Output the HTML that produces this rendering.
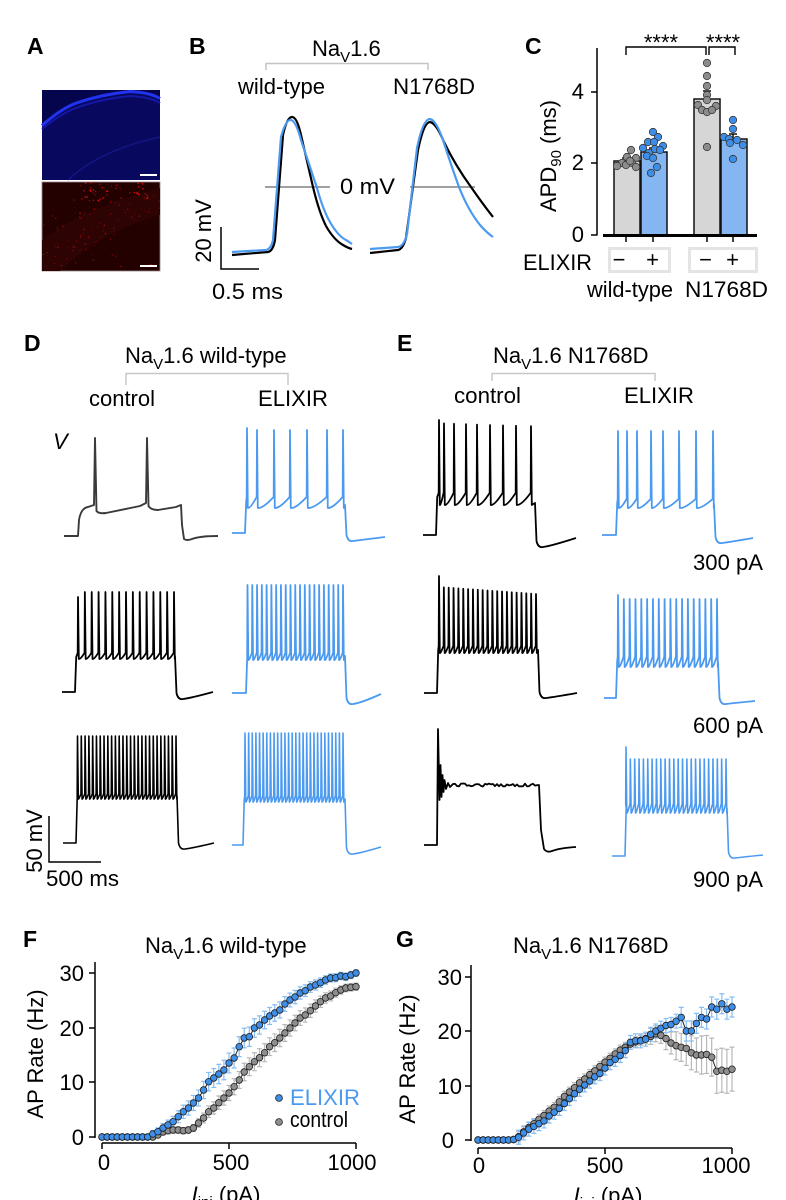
<!DOCTYPE html>
<html><head><meta charset="utf-8">
<style>
html,body{margin:0;padding:0;background:#fff;}
svg{display:block;}
text{font-family:"Liberation Sans",Arial,sans-serif;fill:#000;font-size:22px;}
.lb{font-weight:bold;font-size:23px;}
</style></head><body>
<svg id="s" width="786" height="1200" viewBox="0 0 786 1200" xmlns="http://www.w3.org/2000/svg">
<rect width="786" height="1200" fill="#fff"/>

<!-- ===== Panel A ===== -->
<text class="lb" x="27" y="54">A</text>
<rect x="42" y="90" width="118" height="90" fill="#05054e"/>
<path d="M42,127 Q60,111 75,105 Q100,96 130,93 Q150,94 160,100 L160,180 L42,180 Z" fill="#08085e"/>
<path d="M42,125.5 Q60,109.5 75,103.5 Q100,94.5 130,91.5 Q150,92.5 160,98.5" fill="none" stroke="#2233f0" stroke-width="3"/>
<path d="M42,129 Q60,114 76,108 Q100,99 130,96 Q150,97 160,103" fill="none" stroke="#1418a8" stroke-width="2"/>
<path d="M68,180 Q100,150 160,137" fill="none" stroke="#141482" stroke-width="1.5"/>
<line x1="140" y1="175" x2="157" y2="175" stroke="#fff" stroke-width="2"/>
<rect x="42" y="182" width="118" height="89" fill="#240101" stroke="#9a8888" stroke-width="0.8"/>
<path d="M42,262 L42,240 Q90,205 160,188 L160,215 Q100,232 60,271 L42,271 Z" fill="#2e0303"/>
<g id="speck"></g>
<line x1="140" y1="266" x2="157" y2="266" stroke="#fff" stroke-width="2"/>

<!-- ===== Panel B ===== -->
<text class="lb" x="189" y="54">B</text>
<text x="312" y="56">Na<tspan font-size="15" dy="6">V</tspan><tspan dy="-6">1.6</tspan></text>
<path d="M266,70 L266,63.5 L428,63.5 L428,70" fill="none" stroke="#c4c4c4" stroke-width="1.5"/>
<text x="238" y="94" textLength="87" lengthAdjust="spacingAndGlyphs">wild-type</text>
<text x="393" y="94" textLength="82" lengthAdjust="spacingAndGlyphs">N1768D</text>
<line x1="265" y1="187" x2="330" y2="187" stroke="#808080" stroke-width="1.6"/>
<line x1="410" y1="187" x2="475" y2="187" stroke="#808080" stroke-width="1.6"/>
<text x="340" y="194" textLength="55" lengthAdjust="spacingAndGlyphs">0 mV</text>
<path d="M232,255 L268,252 Q273,251 275,240 L283,135 Q287,117 292,117 Q297,117 301,135 L313,187 Q319,212 326,226 Q334,240 343,245 Q348,248 352,249" fill="none" stroke="#000" stroke-width="2.2"/>
<path d="M232,252 L266,250 Q271,249 273,240 L281,137 Q286,119 291,120 Q296,121 301,140 L317,188 Q323,210 330,222 Q338,236 346,240 Q349,242 352,244" fill="none" stroke="#4b9af0" stroke-width="2.2"/>
<path d="M370,253 L398,250 Q403,249 406,238 L418,150 Q424,122 430,122 Q436,123 444,142 Q455,165 471,187 Q482,203 493,217" fill="none" stroke="#000" stroke-width="2.2"/>
<path d="M370,249 L398,247 Q404,246 407,234 L417,148 Q423,119 430,119 Q436,120 443,140 Q451,165 459,187 Q468,210 480,225 Q487,233 493,237" fill="none" stroke="#4b9af0" stroke-width="2.2"/>
<path d="M221,227 L221,269 L259,269" fill="none" stroke="#000" stroke-width="1.5"/>
<text transform="translate(211,231) rotate(-90)" text-anchor="middle">20 mV</text>
<text x="212" y="299" textLength="71" lengthAdjust="spacingAndGlyphs">0.5 ms</text>

<!-- ===== Panel C ===== -->
<text class="lb" x="525" y="54">C</text>
<line x1="597" y1="48" x2="597" y2="235.5" stroke="#000" stroke-width="1.5"/>
<line x1="591" y1="92" x2="597" y2="92" stroke="#000" stroke-width="1.5"/>
<line x1="591" y1="163" x2="597" y2="163" stroke="#000" stroke-width="1.5"/>
<line x1="591" y1="235" x2="597" y2="235" stroke="#000" stroke-width="1.5"/>
<text x="584" y="99" text-anchor="end">4</text>
<text x="584" y="170" text-anchor="end">2</text>
<text x="584" y="242" text-anchor="end">0</text>
<text transform="translate(556,156) rotate(-90)" text-anchor="middle">APD<tspan font-size="15" dy="5">90</tspan><tspan dy="-5"> (ms)</tspan></text>
<rect x="614" y="161" width="26" height="74" fill="#d6d6d6" stroke="#111" stroke-width="1.5"/>
<rect x="641" y="152" width="26" height="83" fill="#84b6f2" stroke="#111" stroke-width="1.5"/>
<rect x="694" y="99" width="26" height="136" fill="#d6d6d6" stroke="#111" stroke-width="1.5"/>
<rect x="721" y="139" width="26" height="96" fill="#84b6f2" stroke="#111" stroke-width="1.5"/>
<g stroke="#111" stroke-width="1.5" fill="none">
<path d="M626,161 L626,158 M622,158 L630,158"/>
<path d="M653,152 L653,148 M649,148 L657,148"/>
<path d="M707,99 L707,91 M703,91 L711,91"/>
<path d="M733,139 L733,134 M729,134 L737,134"/>
</g>
<line x1="603" y1="235.5" x2="757" y2="235.5" stroke="#000" stroke-width="3"/>
<g stroke="#000" stroke-width="1.5">
<line x1="626" y1="236" x2="626" y2="242"/><line x1="653" y1="236" x2="653" y2="242"/>
<line x1="707" y1="236" x2="707" y2="242"/><line x1="733" y1="236" x2="733" y2="242"/>
</g>
<g id="cdots"></g>
<path d="M626,55 L626,47 L706,47 L706,55 M709,55 L709,47 L735,47 L735,55" fill="none" stroke="#000" stroke-width="1.4"/>
<text x="661" y="50" text-anchor="middle" font-size="20">****</text>
<text x="723" y="50" text-anchor="middle" font-size="20">****</text>
<rect x="609.5" y="248.5" width="60" height="23" fill="none" stroke="#e4e4e4" stroke-width="3"/>
<rect x="689.5" y="248.5" width="67" height="23" fill="none" stroke="#e4e4e4" stroke-width="3"/>
<text x="523" y="270" textLength="69" lengthAdjust="spacingAndGlyphs">ELIXIR</text>
<text x="619" y="267" text-anchor="middle">−</text>
<text x="652.5" y="267" text-anchor="middle">+</text>
<text x="705.5" y="267" text-anchor="middle">−</text>
<text x="732.5" y="267" text-anchor="middle">+</text>
<text x="587" y="297" textLength="86" lengthAdjust="spacingAndGlyphs">wild-type</text>
<text x="685" y="297" textLength="83" lengthAdjust="spacingAndGlyphs">N1768D</text>

<!-- ===== Panel D ===== -->
<text class="lb" x="24" y="351">D</text>
<text x="125" y="363">Na<tspan font-size="15" dy="6">V</tspan><tspan dy="-6">1.6 wild-type</tspan></text>
<path d="M126,385 L126,373.5 L288,373.5 L288,385" fill="none" stroke="#c8c8c8" stroke-width="1.5"/>
<text x="89" y="406" textLength="66" lengthAdjust="spacingAndGlyphs">control</text>
<text x="258" y="406" textLength="70" lengthAdjust="spacingAndGlyphs">ELIXIR</text>
<text x="53" y="449" font-style="italic" font-size="19">V</text>
<path d="M64,536 L78,536 L79,520 Q81,508 88,507 L94,505 L95,438 L96.5,511 Q99,514 106,513 L140,506 L146,503 L147,438 L148.5,506 Q151,510 158,510 L176,507 L181,505 L182,525 L184,539 Q187,541 192,539 Q200,536 218,536" fill="none" stroke="#3a3a3a" stroke-width="1.9" stroke-linejoin="round"/>
<path d="M49,816 L49,862 L101,862" fill="none" stroke="#000" stroke-width="1.5"/>
<text transform="translate(42,841) rotate(-90)" text-anchor="middle">50 mV</text>
<text x="46" y="886" textLength="73" lengthAdjust="spacingAndGlyphs">500 ms</text>

<!-- ===== Panel E ===== -->
<text class="lb" x="397" y="351">E</text>
<text x="493" y="363">Na<tspan font-size="15" dy="6">V</tspan><tspan dy="-6">1.6 N1768D</tspan></text>
<path d="M492,381 L492,373.5 L655,373.5 L655,381" fill="none" stroke="#c8c8c8" stroke-width="1.5"/>
<text x="454" y="403" textLength="67" lengthAdjust="spacingAndGlyphs">control</text>
<text x="624" y="403" textLength="70" lengthAdjust="spacingAndGlyphs">ELIXIR</text>
<text x="693" y="570" textLength="70" lengthAdjust="spacingAndGlyphs">300 pA</text>
<text x="693" y="733" textLength="70" lengthAdjust="spacingAndGlyphs">600 pA</text>
<text x="693" y="887" textLength="70" lengthAdjust="spacingAndGlyphs">900 pA</text>
<g id="traces"></g>

<!-- ===== Panel F ===== -->
<text class="lb" x="23" y="947" font-size="24">F</text>
<text x="145" y="953">Na<tspan font-size="15" dy="6">V</tspan><tspan dy="-6">1.6 wild-type</tspan></text>
<line x1="95" y1="962" x2="95" y2="1138" stroke="#000" stroke-width="1.5"/>
<g stroke="#000" stroke-width="1.5">
<line x1="89" y1="973" x2="95" y2="973"/><line x1="89" y1="1028" x2="95" y2="1028"/>
<line x1="89" y1="1082" x2="95" y2="1082"/><line x1="89" y1="1137" x2="95" y2="1137"/>
<line x1="102" y1="1143" x2="356" y2="1143"/>
<line x1="102" y1="1143" x2="102" y2="1149"/><line x1="229" y1="1143" x2="229" y2="1149"/><line x1="356" y1="1143" x2="356" y2="1149"/>
</g>
<text x="84" y="981" text-anchor="end">30</text>
<text x="84" y="1036" text-anchor="end">20</text>
<text x="84" y="1090" text-anchor="end">10</text>
<text x="84" y="1145" text-anchor="end">0</text>
<text x="104" y="1170" text-anchor="middle">0</text>
<text x="231" y="1170" text-anchor="middle">500</text>
<text x="352" y="1170" text-anchor="middle">1000</text>
<text transform="translate(43,1054) rotate(-90)" text-anchor="middle">AP Rate (Hz)</text>
<text x="226" y="1202" text-anchor="middle"><tspan font-style="italic">I</tspan><tspan font-size="15" dy="5">inj</tspan><tspan dy="-5"> (pA)</tspan></text>
<g id="fplot"></g>
<circle cx="279" cy="1098" r="3.4" fill="#3f8fe8" stroke="#1e1e1e" stroke-width="0.8"/>
<circle cx="279" cy="1122" r="3.4" fill="#8e8e8e" stroke="#1e1e1e" stroke-width="0.8"/>
<text x="290" y="1105" fill="#4b9af0" style="fill:#4b9af0" textLength="70" lengthAdjust="spacingAndGlyphs">ELIXIR</text>
<text x="290" y="1127" textLength="58" lengthAdjust="spacingAndGlyphs">control</text>

<!-- ===== Panel G ===== -->
<text class="lb" x="396" y="947" font-size="24">G</text>
<text x="513" y="953">Na<tspan font-size="15" dy="6">V</tspan><tspan dy="-6">1.6 N1768D</tspan></text>
<line x1="471" y1="965" x2="471" y2="1141" stroke="#000" stroke-width="1.5"/>
<g stroke="#000" stroke-width="1.5">
<line x1="465" y1="977" x2="471" y2="977"/><line x1="465" y1="1031" x2="471" y2="1031"/>
<line x1="465" y1="1086" x2="471" y2="1086"/><line x1="465" y1="1140" x2="471" y2="1140"/>
<line x1="478" y1="1148" x2="732" y2="1148"/>
<line x1="478" y1="1148" x2="478" y2="1154"/><line x1="605" y1="1148" x2="605" y2="1154"/><line x1="732" y1="1148" x2="732" y2="1154"/>
</g>
<text x="462" y="985" text-anchor="end">30</text>
<text x="462" y="1039" text-anchor="end">20</text>
<text x="462" y="1094" text-anchor="end">10</text>
<text x="454" y="1148" text-anchor="end">0</text>
<text x="479" y="1173" text-anchor="middle">0</text>
<text x="605" y="1173" text-anchor="middle">500</text>
<text x="726" y="1173" text-anchor="middle">1000</text>
<text transform="translate(415,1059) rotate(-90)" text-anchor="middle">AP Rate (Hz)</text>
<text x="608" y="1203" text-anchor="middle"><tspan font-style="italic">I</tspan><tspan font-size="15" dy="5">inj</tspan><tspan dy="-5"> (pA)</tspan></text>
<g id="gplot"></g>
</svg>
<script>
(function(){
var NS="http://www.w3.org/2000/svg";
function el(tag,attrs,parent){var e=document.createElementNS(NS,tag);for(var k in attrs)e.setAttribute(k,attrs[k]);parent.appendChild(e);return e;}
function lin(a,b,n){var r=[];for(var i=0;i<n;i++)r.push(a+(b-a)*i/(n-1));return r;}
var BLUE="#4b9af0";
var tg=document.getElementById('traces');
function train(o){
  var sp=o.sp,d="M"+o.x0+","+o.yb+" L"+o.xs+","+o.yb+" L"+(o.xs+1.2)+","+(o.pre+4);
  for(var i=0;i<sp.length;i++){
    var x=sp[i];var top=(typeof o.top==='function')?o.top(i):o.top;
    d+=" L"+(x-0.3)+","+o.pre+" L"+x+","+top+" L"+(x+0.8)+","+o.tr;
    if(i<sp.length-1){var nx=sp[i+1];d+=" Q"+(x+(nx-x)*0.35)+","+(o.tr+0.5)+" "+(nx-0.4)+","+o.pre;}
  }
  var xe=o.xe;
  d+=" L"+xe+","+o.plat+" L"+(xe+1.5)+","+(o.yu-6)+" Q"+(xe+3)+","+(o.yu+1)+" "+(xe+8)+","+o.yu+" Q"+(xe+16)+","+(o.yu-1)+" "+o.xend+","+o.yr;
  el('path',{d:d,fill:'none',stroke:o.c,'stroke-width':o.w||1.8,'stroke-linejoin':'round'},tg);
}
train({x0:232,yb:533,xs:245,sp:[247,257,274,290,307,327,343],top:function(i){return i==0?428:430;},tr:508,pre:497,xe:345,plat:505,yu:541,xend:385,yr:537,c:BLUE});
train({x0:62,yb:692,xs:75,sp:lin(78,174,15),top:function(i){return i==0?597:592;},tr:659,pre:653,xe:175,plat:656,yu:699,xend:213,yr:692,c:"#000"});
train({x0:232,yb:693,xs:246,sp:lin(247.5,343,21),top:585,tr:660,pre:653,xe:345,plat:656,yu:704,xend:381,yr:694,c:BLUE});
train({x0:63,yb:843,xs:76,sp:lin(77.5,176,27),top:736,tr:799,pre:794,xe:177,plat:796,yu:849,xend:214,yr:843,c:"#000",w:1.6});
train({x0:232,yb:845,xs:243,sp:lin(245,343,28),top:733,tr:802,pre:796,xe:345,plat:799,yu:854,xend:381,yr:847,c:BLUE,w:1.6});
train({x0:423,yb:535,xs:436,sp:[439,444,454,466,477,490,503,516,531],top:function(i){return i==0?420:(423+i*0.4);},tr:505,pre:493,xe:535,plat:503,yu:547,xend:576,yr:538,c:"#000"});
train({x0:602,yb:535,xs:616,sp:[618,627,637,651,663,679,696,713],top:431,tr:508,pre:499,xe:714,plat:504,yu:543,xend:753,yr:538,c:BLUE});
train({x0:424,yb:693,xs:437,sp:lin(439,536,21),top:function(i){return i==0?576:587+i*0.35;},tr:653,pre:646,xe:538,plat:650,yu:698,xend:577,yr:693,c:"#000"});
train({x0:604,yb:698,xs:616,sp:lin(618,717,18),top:function(i){return i==0?595:599;},tr:667,pre:657,xe:718,plat:662,yu:704,xend:755,yr:701,c:BLUE});
train({x0:612,yb:856,xs:625,sp:lin(626,726,24),top:function(i){return i==0?747:759;},tr:813,pre:804,xe:727,plat:808,yu:858,xend:763,yr:855,c:BLUE,w:1.6});
var seed=12345;function rnd(){seed=(seed*16807)%2147483647;return seed/2147483647;}
var d="M424,845 L437,845 L438,729 L439.5,800 L440.5,765 L441.5,797 L442.5,775 L443.5,792 L444.5,780 L446,789 L448,783 L450,787 L453,784";
for(var x=455;x<=537;x+=2){d+=" L"+x+","+(785+(rnd()-0.5)*3).toFixed(1);}
d+=" L539,785 L541,830 L544,849 Q547,853 552,851 Q560,848 576,847";
el('path',{d:d,fill:'none',stroke:'#000','stroke-width':1.8,'stroke-linejoin':'round'},tg);

// Panel A speckles (sparser, dimmer)
var sg=document.getElementById('speck');
for(var n=0;n<2200;n++){
  var sx=42+rnd()*117,sy=182+rnd()*88;
  var w=0.06,top=false;
  if(sy<200&&sx>82&&sx<148){w+=0.5;top=true;}
  var ly=262-(sx-42)*0.55;
  if(Math.abs(sy-ly)<12)w+=0.22;
  if(Math.abs(sy-(ly-30))<8)w+=0.12;
  if(rnd()<w*0.35){
    var r=Math.floor((top?110:60)+rnd()*(top?145:110));
    el('rect',{x:sx.toFixed(1),y:sy.toFixed(1),width:1.3,height:1.3,fill:'rgb('+r+','+Math.floor(r*0.06)+','+Math.floor(r*0.06)+')'},sg);
  }
}

// Panel C dots
var cg=document.getElementById('cdots');
var gd=[[631,150],[627,157],[636,158],[622,163],[632,163],[617,166],[626,165],[636,167],[630,161]];
var bd=[[653,132],[658,137],[648,142],[654,142],[663,146],[643,148],[649,153],[655,149],[660,150],[647,156],[653,158],[657,167],[651,173]];
var gd2=[[707,63],[707,76],[707,86],[707,95],[698,105],[707,100],[716,106],[702,110],[707,112],[712,110],[707,147]];
var bd2=[[733,120],[733,129],[724,137],[729,139],[737,140],[743,145],[730,143],[733,159]];
function dots(arr,fill,par){arr.forEach(function(p){el('circle',{cx:p[0],cy:p[1],r:3.7,fill:fill,stroke:'#3a3a3a','stroke-width':0.8},par);});}
dots(gd,'#8c8c8c',cg);dots(bd,'#3d8ee8',cg);dots(gd2,'#8c8c8c',cg);dots(bd2,'#3d8ee8',cg);

function series(par,x0,ys,errs,fill,ecol){
  for(var i=0;i<ys.length;i++){var e=errs[i];if(e>0.8){var x=x0+i*5.08;
    el('path',{d:"M"+x+","+(ys[i]-e)+" L"+x+","+(ys[i]+e)+" M"+(x-2.5)+","+(ys[i]-e)+" L"+(x+2.5)+","+(ys[i]-e)+" M"+(x-2.5)+","+(ys[i]+e)+" L"+(x+2.5)+","+(ys[i]+e),stroke:ecol,'stroke-width':1.2,fill:'none'},par);}}
}
function dotsLine(par,x0,ys,fill){
  var pts=[];for(var i=0;i<ys.length;i++)pts.push((x0+i*5.08).toFixed(1)+","+ys[i].toFixed(1));
  el('polyline',{points:pts.join(" "),fill:'none',stroke:'#222','stroke-width':1},par);
  for(var j=0;j<ys.length;j++)el('circle',{cx:(x0+j*5.08).toFixed(1),cy:ys[j].toFixed(1),r:3.3,fill:fill,stroke:'#1e1e1e','stroke-width':0.8},par);
}
var i;
var fb=[];for(i=0;i<10;i++)fb.push(1137);
fb=fb.concat([1134,1131.7,1128,1125,1121.7,1116.7,1111.7,1108,1103,1098,1090,1081.7,1078,1074,1070,1063,1058,1046.7,1038,1036.7,1028,1025,1020,1016,1013,1010,1004,1000,997,993,990.7,987,985,982.7,980,978,977.7,976,976.7,975,973]);
var fgy=[];for(i=0;i<11;i++)fgy.push(1137);
fgy=fgy.concat([1135,1132,1130.7,1130,1130,1130.7,1130,1128,1123,1118,1111.7,1108,1102.7,1098,1093,1086.7,1080,1072,1066.7,1061.7,1057.7,1052.7,1046.7,1042.7,1038,1033,1028,1023,1018,1015,1010.7,1006,1001.7,998,996,992.7,990,988,987.3,986.7]);
var fbe=fb.map(function(y){var f=(1137-y)/165;return f<0.01?0:3+7*4*f*(1-f);});
var fge=fgy.map(function(y){var f=(1137-y)/160;return f<0.01?0:2+7*4*f*(1-f);});
var fp=document.getElementById('fplot');
series(fp,102,fgy,fge,'#8e8e8e','#b8b8b8');
series(fp,102,fb,fbe,'#3f8fe8','#86bdf5');
dotsLine(fp,102,fgy,'#8e8e8e');
dotsLine(fp,102,fb,'#3f8fe8');

var gbv=[0,0,0,0,0,0,0,0.1,0.5,1.3,2,2.5,3,3.5,4.4,5.1,5.8,6.7,7.6,8.5,9.3,10.1,10.8,11.6,12.2,13.2,14.2,14.8,15.5,16.4,17.9,18.2,18.2,18.5,19.4,20,20.5,21,21.2,21.8,22.5,20,20,21.4,22.5,22.2,24.4,24,25,24,24.4];
var ggv=[0,0,0,0,0,0,0,0.1,0.6,1.5,2.3,3,3.8,4.5,5.3,6,7,8,8.8,9.6,10.5,11.2,12,12.7,13.5,14.3,15,15.8,16.5,17,17.6,18,18.3,18.6,19,19.5,19.2,18.6,17.8,17.3,17,16.8,16,15.6,15.6,15.7,15.2,12.6,12.8,12.6,13];
var gby=gbv.map(function(v){return 1140-v*5.45;});
var ggy=ggv.map(function(v){return 1140-v*5.45;});
var gbe=gbv.map(function(v,i){if(v<0.4)return 0;return i>=40?10:7;});
var gge=ggv.map(function(v,i){if(v<0.4)return 0;if(i<34)return 5;if(i<37)return 8;if(i<39)return 11;if(i<41)return 14;if(i<44)return 17;if(i<47)return 19;return 22;});
var gp=document.getElementById('gplot');
series(gp,478,ggy,gge,'#8e8e8e','#b8b8b8');
series(gp,478,gby,gbe,'#3f8fe8','#86bdf5');
dotsLine(gp,478,ggy,'#8e8e8e');
dotsLine(gp,478,gby,'#3f8fe8');
})();
</script>
</body></html>
